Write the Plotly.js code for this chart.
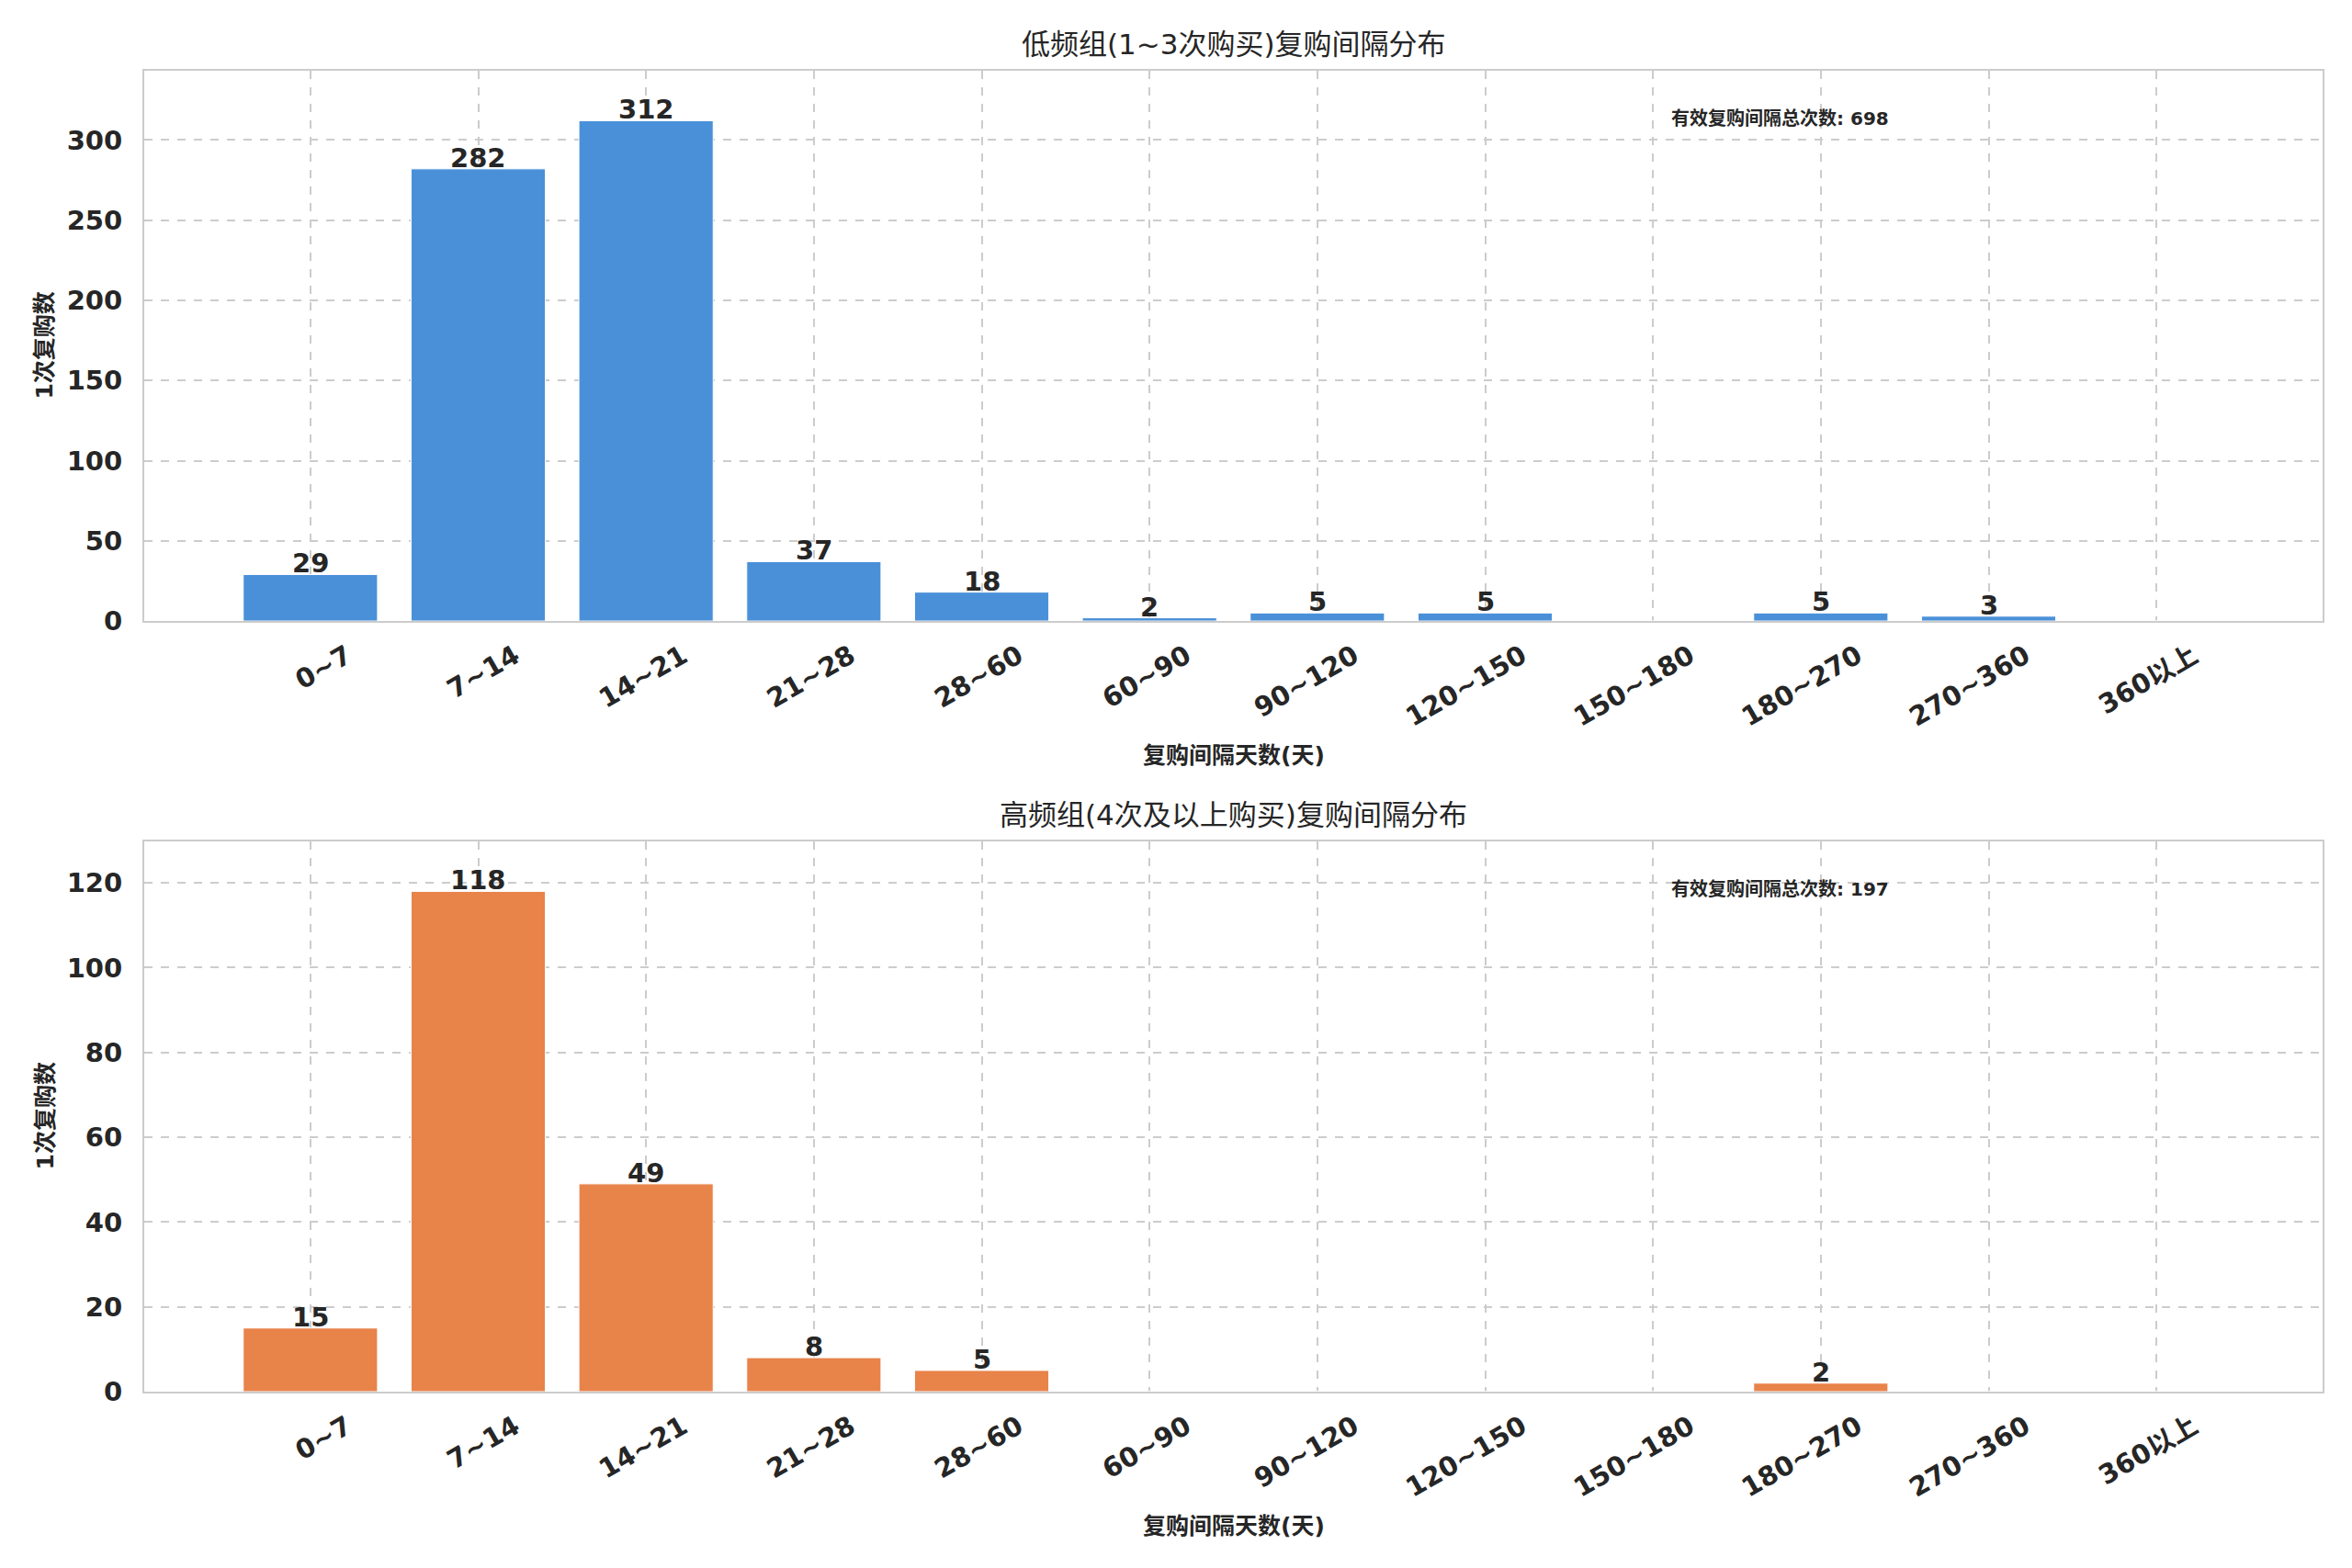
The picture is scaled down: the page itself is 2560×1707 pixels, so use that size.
<!DOCTYPE html>
<html>
<head>
<meta charset="utf-8">
<script src="https://cdn.plot.ly/plotly-3.0.1.min.js"></script>
<style>
  html, body { margin: 0; padding: 0; background: #fff; }
  #chart { width: 2560px; height: 1707px; }
</style>
</head>
<body>
<div id="chart"></div>
<script>
// interval buckets (days)
const categories = ["0~7", "7~14", "14~21", "21~28", "28~60", "60~90", "90~120", "120~150", "150~180", "180~270", "270~360", "360以上"];
// counts per bucket
const lowFreqCounts = [29, 282, 312, 37, 18, 2, 5, 5, 0, 5, 3, 0];
const highFreqCounts = [15, 118, 49, 8, 5, 0, 0, 0, 0, 2, 0, 0];
const panelTitles = ["低频组(1~3次购买)复购间隔分布", "高频组(4次及以上购买)复购间隔分布"];
const totalLabel = "有效复购间隔总次数";
const xLabel = "复购间隔天数(天)";
const yLabel = "1次复购数";

const FONT = "DejaVu Sans, Noto Sans CJK SC, sans-serif";
const INK = "#262626";
const GRID = "#cccccc";
const COLORS = ["#4a90d9", "#e8834a"];

function sum(a) { return a.reduce((s, v) => s + v, 0); }

function barTrace(vals, color, xa, ya) {
  return {
    type: "bar",
    x: categories,
    y: vals,
    xaxis: xa,
    yaxis: ya,
    width: 0.8,
    marker: { color: color, line: { color: "#ffffff", width: 1 } },
    hoverinfo: "x+y",
    showlegend: false
  };
}

function xAxis(anchor) {
  return {
    anchor: anchor,
    type: "category",
    categoryorder: "array",
    categoryarray: categories,
    range: [-0.99, 11.99],
    tickangle: -30,
    ticklabelshift: 40,
    ticklabelstandoff: 8,
    tickfont: { family: FONT, size: 29, color: INK, weight: "bold" },
    ticks: "",
    showgrid: true,
    gridcolor: GRID,
    griddash: "dash",
    gridwidth: 2,
    showline: true,
    linecolor: GRID,
    linewidth: 2,
    mirror: true,
    zeroline: false
  };
}

function yAxis(anchor, domain, maxVal, dtick) {
  return {
    anchor: anchor,
    domain: domain,
    range: [0, maxVal * 1.1],
    dtick: dtick,
    tickfont: { family: FONT, size: 29, color: INK, weight: "bold" },
    ticks: "",
    ticklabelstandoff: 16,
    showgrid: true,
    gridcolor: GRID,
    griddash: "dash",
    gridwidth: 2,
    showline: true,
    linecolor: GRID,
    linewidth: 2,
    mirror: true,
    zeroline: false
  };
}

const traces = [
  barTrace(lowFreqCounts, COLORS[0], "x", "y"),
  barTrace(highFreqCounts, COLORS[1], "x2", "y2")
];

const annotations = [];
const panels = [["x", "y", lowFreqCounts], ["x2", "y2", highFreqCounts]];
panels.forEach((p, i) => {
  const xr = p[0] + " domain", yr = p[1] + " domain";
  // value labels on top of each non-zero bar
  p[2].forEach((v, k) => {
    if (v <= 0) return;
    annotations.push({
      xref: p[0], yref: p[1], x: categories[k], y: v,
      xanchor: "center", yanchor: "bottom", yshift: -7, showarrow: false,
      text: String(v),
      font: { family: FONT, size: 29, color: INK, weight: "bold" }
    });
  });
  annotations.push({
    xref: xr, yref: yr, x: 0.5, y: 1, yshift: 29,
    xanchor: "center", yanchor: "middle", showarrow: false,
    text: panelTitles[i],
    font: { family: FONT, size: 31, color: INK }
  });
  annotations.push({
    xref: xr, yref: yr, x: 0.5, y: 0, yshift: -146,
    xanchor: "center", yanchor: "middle", showarrow: false,
    text: xLabel,
    font: { family: FONT, size: 25, color: INK, weight: "bold" }
  });
  annotations.push({
    xref: "paper", yref: yr, x: 0, xshift: -108, y: 0.5,
    xanchor: "center", yanchor: "middle", showarrow: false, textangle: -90,
    text: yLabel,
    font: { family: FONT, size: 25, color: INK, weight: "bold" }
  });
  annotations.push({
    xref: xr, yref: yr, x: 0.70, y: 0.913,
    xanchor: "left", yanchor: "middle", showarrow: false,
    text: totalLabel + ": " + sum(p[2]),
    font: { family: FONT, size: 20, color: INK, weight: "bold" }
  });
});

const layout = {
  width: 2560,
  height: 1707,
  margin: { l: 157, r: 32, t: 77, b: 192 },
  paper_bgcolor: "#ffffff",
  plot_bgcolor: "#ffffff",
  font: { family: FONT, color: INK },
  xaxis: xAxis("y"),
  yaxis: yAxis("x", [0.5834, 1], Math.max(...lowFreqCounts), 50),
  xaxis2: xAxis("y2"),
  yaxis2: yAxis("x2", [0, 0.4166], Math.max(...highFreqCounts), 20),
  annotations: annotations,
  showlegend: false
};

Plotly.newPlot("chart", traces, layout, { displayModeBar: false, staticPlot: true });
</script>
</body>
</html>
